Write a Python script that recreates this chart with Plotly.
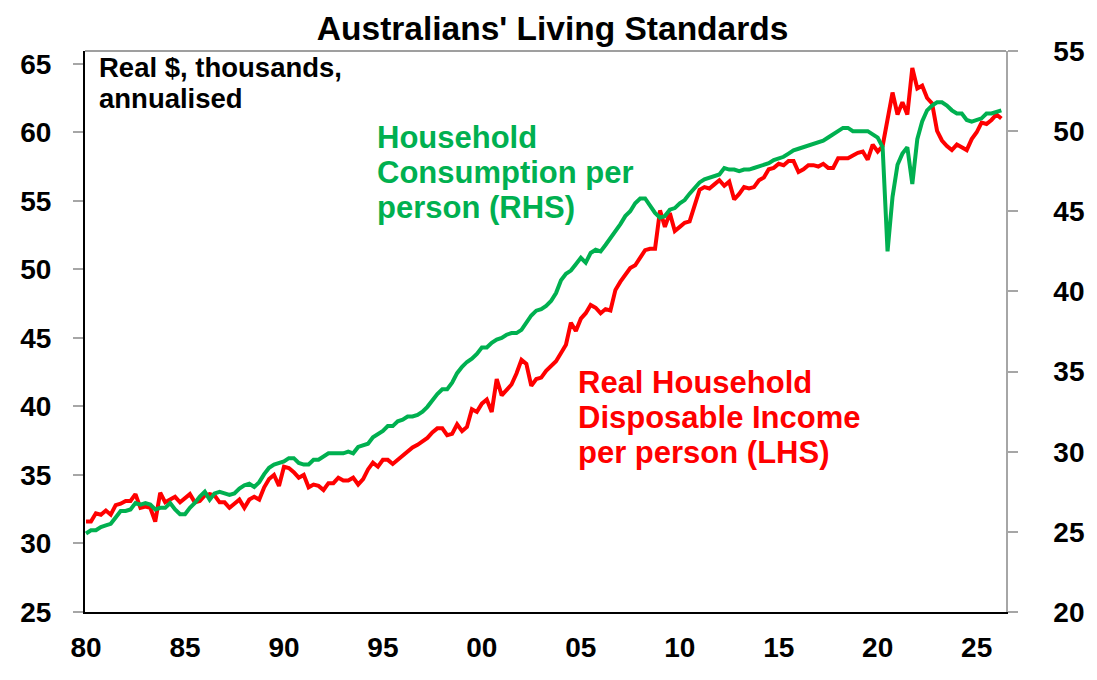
import pandas as pd
import plotly.graph_objects as go

# Real household disposable income per person, $000 (LHS), quarterly from 1980
income_lhs = [
    31.6, 31.6, 32.2, 32.1, 32.4, 32.1, 32.8, 32.9, 33.1, 33.1,
    33.6, 32.6, 32.7, 32.6, 31.6, 33.7, 33.0, 33.2, 33.4, 33.0,
    33.3, 33.6, 33.0, 33.1, 33.5, 33.6, 33.5, 33.0, 33.0, 32.6,
    32.9, 33.2, 32.6, 33.2, 33.4, 33.2, 34.1, 34.7, 35.0, 34.2,
    35.6, 35.5, 35.2, 34.8, 35.0, 34.1, 34.3, 34.2, 33.9, 34.4,
    34.4, 34.8, 34.6, 34.6, 34.8, 34.3, 34.7, 35.4, 35.9, 35.6,
    36.1, 36.1, 35.8, 36.1, 36.4, 36.7, 37.0, 37.2, 37.5, 37.7,
    38.1, 38.4, 38.4, 37.9, 38.0, 38.7, 38.2, 38.5, 39.8, 39.6,
    40.2, 40.5, 39.6, 42.0, 40.8, 41.2, 41.6, 42.4, 43.4, 43.1,
    41.5, 42.0, 42.1, 42.6, 43.0, 43.3, 43.9, 44.5, 46.1, 45.5,
    46.4, 46.8, 47.4, 47.2, 46.8, 47.1, 47.0, 48.5, 49.1, 49.6,
    50.1, 50.3, 50.9, 51.4, 51.5, 51.5, 54.3, 53.1, 54.1, 52.8,
    53.1, 53.4, 53.5, 54.6, 55.8, 56.0, 55.9, 56.2, 56.5, 56.1,
    56.4, 55.1, 55.5, 56.0, 55.9, 56.0, 56.5, 56.7, 57.3, 57.4,
    57.7, 57.6, 57.9, 57.9, 57.1, 57.3, 57.6, 57.6, 57.5, 57.7,
    57.4, 57.4, 58.1, 58.1, 58.1, 58.3, 58.5, 58.6, 58.0, 59.1,
    58.6, 59.0, 61.0, 62.9, 61.3, 62.2, 61.3, 64.7, 63.2, 63.4,
    62.5, 62.1, 60.1, 59.4, 59.0, 58.7, 59.1, 58.9, 58.7, 59.5,
    60.0, 60.7, 60.6, 60.9, 61.3, 61.0,
]

# Household consumption per person, $000 (RHS)
consumption_rhs = [
    24.9, 25.1, 25.1, 25.3, 25.4, 25.5, 25.9, 26.3, 26.3, 26.4,
    26.8, 26.7, 26.8, 26.7, 26.4, 26.5, 26.5, 26.8, 26.4, 26.1,
    26.1, 26.5, 26.8, 27.2, 27.5, 27.0, 27.4, 27.5, 27.4, 27.3,
    27.4, 27.7, 27.9, 28.0, 27.8, 28.1, 28.6, 29.0, 29.2, 29.3,
    29.4, 29.6, 29.6, 29.3, 29.2, 29.2, 29.5, 29.5, 29.7, 29.9,
    29.9, 29.9, 29.9, 30.0, 29.9, 30.3, 30.4, 30.5, 30.9, 31.1,
    31.3, 31.6, 31.6, 31.9, 32.0, 32.2, 32.2, 32.3, 32.5, 32.8,
    33.2, 33.6, 33.9, 33.9, 34.3, 34.9, 35.3, 35.6, 35.8, 36.1,
    36.5, 36.5, 36.8, 37.0, 37.1, 37.3, 37.4, 37.4, 37.6, 38.1,
    38.5, 38.8, 38.9, 39.1, 39.4, 39.9, 40.7, 41.1, 41.3, 41.7,
    42.1, 41.8, 42.4, 42.6, 42.5, 42.9, 43.3, 43.7, 44.2, 44.7,
    45.0, 45.5, 45.8, 45.8, 45.4, 44.9, 44.6, 44.7, 45.1, 45.2,
    45.5, 45.7, 46.1, 46.5, 46.8, 47.0, 47.1, 47.2, 47.3, 47.7,
    47.6, 47.6, 47.5, 47.6, 47.6, 47.7, 47.8, 47.9, 48.0, 48.2,
    48.3, 48.4, 48.6, 48.8, 48.9, 49.0, 49.1, 49.2, 49.3, 49.4,
    49.6, 49.8, 50.0, 50.2, 50.2, 50.0, 50.0, 50.0, 50.0, 49.8,
    49.6, 49.0, 42.5, 45.9, 47.9, 48.6, 49.0, 46.7, 49.5, 50.6,
    51.3, 51.6, 51.8, 51.8, 51.6, 51.3, 51.1, 51.1, 50.7, 50.6,
    50.7, 50.8, 51.1, 51.1, 51.2, 51.3,
]

quarters = pd.date_range("1980-01-01", periods=len(income_lhs), freq="QS")

RED = "#FF0000"
GREEN = "#00B050"
FONT = "Arial, Liberation Sans, sans-serif"

fig = go.Figure()
fig.add_trace(go.Scatter(x=quarters, y=income_lhs, mode="lines",
                         line=dict(color=RED, width=4), yaxis="y"))
fig.add_trace(go.Scatter(x=quarters, y=consumption_rhs, mode="lines",
                         line=dict(color=GREEN, width=4), yaxis="y2"))

tickfont = dict(family=FONT, size=28, color="black", weight="bold")

# page body adds 8px, so the figure is a bit smaller than the window
fig.update_layout(
    width=1089, height=672,
    margin=dict(l=76, r=84, t=43, b=68),
    paper_bgcolor="white", plot_bgcolor="white",
    showlegend=False,
    title=dict(text="Australians' Living Standards", x=0.5001, xanchor="center",
               y=0.9705, yanchor="middle",
               font=dict(family=FONT, size=33.5, color="black", weight="bold")),
    xaxis=dict(type="date", range=["1979-12-13", "2026-06-26"],
               tick0="1980-01-01", dtick="M60", tickformat="%y",
               ticks="", showgrid=False, zeroline=False,
               showline=True, linecolor="black", linewidth=2,
               tickfont=tickfont, ticklabelstandoff=9),
    yaxis=dict(range=[25, 65.93], tickvals=[25, 30, 35, 40, 45, 50, 55, 60, 65],
               ticks="outside", ticklen=10, tickcolor="#a6a6a6", tickwidth=1.5,
               showgrid=False, zeroline=False,
               showline=True, linecolor="black", linewidth=2,
               tickfont=tickfont, ticklabelstandoff=16),
    yaxis2=dict(range=[20, 55], tickvals=[20, 25, 30, 35, 40, 45, 50, 55],
                overlaying="y", side="right",
                ticks="outside", ticklen=10, tickcolor="#a6a6a6", tickwidth=1.5,
                showgrid=False, zeroline=False,
                showline=True, linecolor="#a6a6a6", linewidth=1.5,
                tickfont=tickfont, ticklabelstandoff=30),
)

# top border of the plot box
fig.add_shape(type="line", xref="paper", yref="paper", x0=0, x1=1, y0=1, y1=1,
              line=dict(color="#7f7f7f", width=1.5))

# text labels, one annotation per line
labels = [
    ("Real $, thousands,", 0.0133, 0.970, "black", 27.5),
    ("annualised", 0.0133, 0.9148, "black", 27.5),
    ("Household", 0.3154, 0.8457, GREEN, 31),
    ("Consumption per", 0.3154, 0.7833, GREEN, 31),
    ("person (RHS)", 0.3154, 0.7209, GREEN, 31),
    ("Real Household", 0.5336, 0.4089, RED, 31),
    ("Disposable Income", 0.5336, 0.3465, RED, 31),
    ("per person (LHS)", 0.5336, 0.2841, RED, 31),
]
for text, x, y, color, size in labels:
    fig.add_annotation(text=text, xref="paper", yref="paper", x=x, y=y,
                       xanchor="left", yanchor="middle", showarrow=False,
                       font=dict(family=FONT, size=size, color=color, weight="bold"))

fig.write_html("out.html")
